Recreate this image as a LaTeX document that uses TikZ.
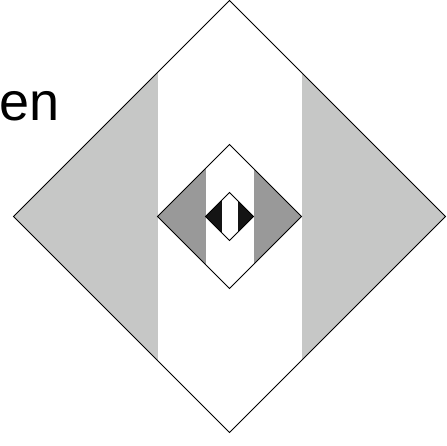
\documentclass[tikz,border=0pt]{standalone}
\usepackage{fontspec}
\setmainfont{Liberation Sans}
\usepackage{tikz}
\usetikzlibrary{positioning,calc}
\definecolor{outergray}{HTML}{C6C7C6}
\definecolor{middlegray}{HTML}{999999}
\definecolor{innerblack}{HTML}{141414}

\begin{document}
\begin{tikzpicture}[
  x=1pt,y=-1pt,
  every node/.style={inner sep=0pt},
  label/.style={font=\fontsize{54}{60}\selectfont,anchor=base west},
  rim/.style={draw=black,line width=1pt,line join=miter}
]
\useasboundingbox (0,0) rectangle (447,446);
\coordinate (centre) at (229.5,216.5);
\node[label] (word) at (-1,121) {en};
% three nested diamonds, each a third of the last
\foreach \s/\c in {216/outergray,72/middlegray,24/innerblack}{
  \begin{scope}
    \clip ($(centre)+(0,-\s)$) -- ($(centre)+(\s,0)$) -- ($(centre)+(0,\s)$) -- ($(centre)+(-\s,0)$) -- cycle;
    \fill[\c] ($(centre)+(-\s,-\s)$) rectangle ($(centre)+(\s,\s)$);
    \fill[white] ($(centre)+(-\s/3,-\s)$) rectangle ($(centre)+(\s/3,\s)$);
  \end{scope}
  \draw[rim] ($(centre)+(0,-\s)$) -- ($(centre)+(\s,0)$) -- ($(centre)+(0,\s)$) -- ($(centre)+(-\s,0)$) -- cycle;
}
\end{tikzpicture}
\end{document}
